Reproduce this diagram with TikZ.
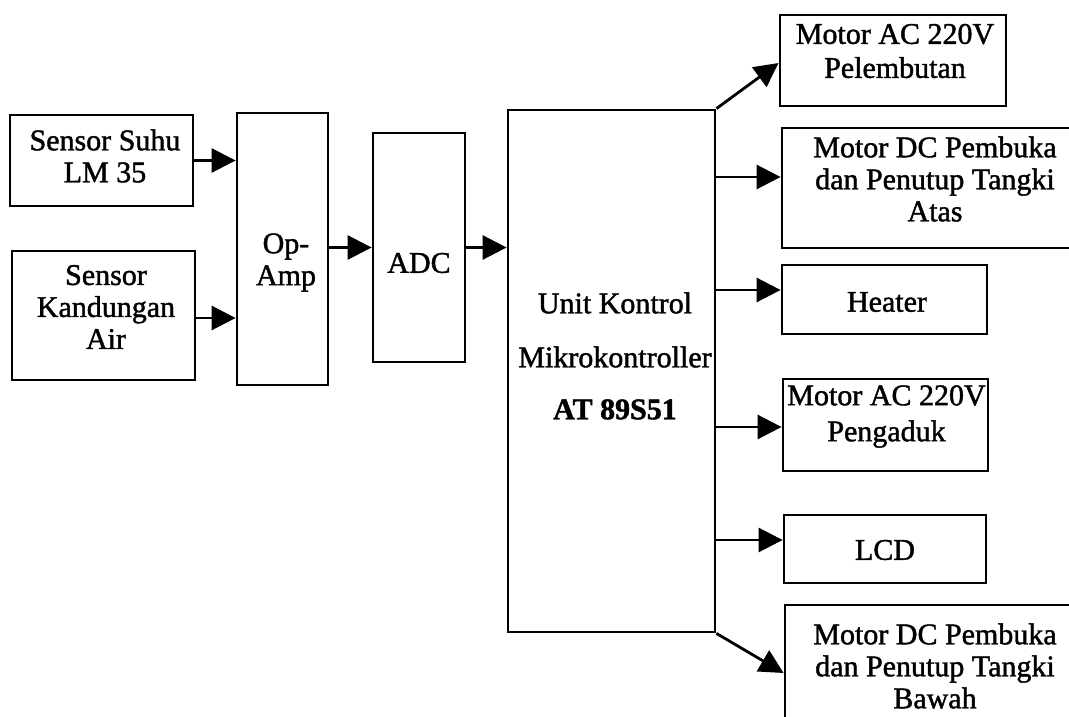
\documentclass[tikz,border=0pt]{standalone}
\usepackage{fontspec}
\setmainfont{Liberation Serif}[FakeBold=1.4]
\usetikzlibrary{arrows.meta}
\tikzset{
  blk/.style={draw, line width=2.8pt, inner sep=0pt},
  txt/.style={inner sep=0pt, align=center, font=\fontsize{30}{32}\selectfont},
  conn/.style={line width=2.8pt, -{Triangle[length=24pt,width=24pt]}},
}
\begin{document}
\begin{tikzpicture}[x=1pt,y=-1pt]
\useasboundingbox (0,0) rectangle (1069,717);
\fill[white] (0,0) rectangle (1069,717);
\clip (0,0) rectangle (1069,717);
% ---------- boxes ----------
\node[blk, minimum width=183pt, minimum height=91pt]  (s1)   at (101.5,160.5) {};
\node[blk, minimum width=183pt, minimum height=129pt] (s2)   at (103.5,315.5) {};
\node[blk, minimum width=91pt,  minimum height=272pt] (op)   at (282.5,249) {};
\node[blk, minimum width=92pt,  minimum height=229pt] (adc)  at (419,247.5) {};
\node[blk, minimum width=207pt, minimum height=522pt] (mcu)  at (611.5,371) {};
\node[blk, minimum width=226pt, minimum height=91pt]  (m1)   at (893,60.5) {};
\node[blk, minimum width=318pt, minimum height=120pt] (m2)   at (941,188) {};
\node[blk, minimum width=205pt, minimum height=69pt]  (heat) at (884.5,299.5) {};
\node[blk, minimum width=205pt, minimum height=92pt]  (m3)   at (885.5,425) {};
\node[blk, minimum width=202pt, minimum height=68pt]  (lcd)  at (885,549) {};
\node[blk, minimum width=315pt, minimum height=155pt] (m4)   at (942.5,682.5) {};
% ---------- texts ----------
\node[txt] (ts1)   at (105,156)   {Sensor Suhu\\LM 35};
\node[txt] (ts2)   at (106,307)   {Sensor\\Kandungan\\Air};
\node[txt] (top)   at (286,262.5) {Op-\\Amp};
\node[txt] (tadc)  at (419,263)   {ADC};
\node[txt] (tmcu)  at (615,356)   {Unit Kontrol\\[22pt]Mikrokontroller\\[20pt]\textbf{AT 89S51}};
\node[txt, font=\fontsize{30}{34}\selectfont] (tm1) at (895,51) {Motor AC 220V\\Pelembutan};
\node[txt] (tm2)   at (935,179)   {Motor DC Pembuka\\dan Penutup Tangki\\Atas};
\node[txt] (theat) at (887,302)   {Heater};
\node[txt, font=\fontsize{30}{36}\selectfont] (tm3) at (886.5,416.5) {Motor AC 220V\\Pengaduk};
\node[txt] (tlcd)  at (885,550)   {LCD};
\node[txt] (tm4)   at (935,666)   {Motor DC Pembuka\\dan Penutup Tangki\\Bawah};
% ---------- connectors ----------
\draw[conn] (s1.east) -- (s1.east -| op.west);
\draw[conn] ([yshift=-2.5pt]s2.east) -- ([yshift=-2.5pt]s2.east -| op.west);
\draw[conn] (adc.west -| op.east) -- (adc.west);
\draw[conn] (adc.east) -- (adc.east -| mcu.west);
\draw[conn] (mcu.north east) -- ([yshift=-2.5pt]m1.west);
\draw[conn] ([yshift=11pt]m2.west -| mcu.east) -- ([yshift=11pt]m2.west);
\draw[conn] ([yshift=9.5pt]heat.west -| mcu.east) -- ([yshift=9.5pt]heat.west);
\draw[conn] ([yshift=-2pt]m3.west -| mcu.east) -- ([yshift=-2pt]m3.west);
\draw[conn] ([yshift=9pt]lcd.west -| mcu.east) -- ([yshift=9pt]lcd.west);
\draw[conn] (mcu.south east) -- ([yshift=9.5pt]m4.west);
\end{tikzpicture}
\end{document}
